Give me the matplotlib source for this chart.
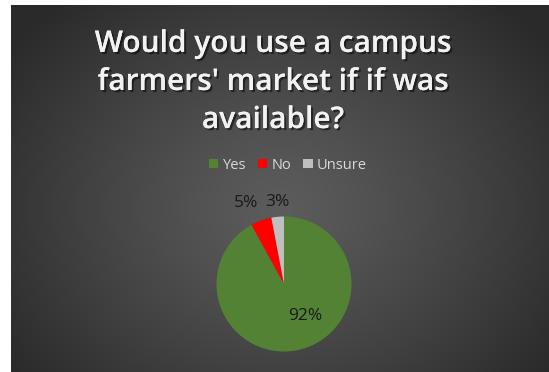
import numpy as np
import matplotlib
matplotlib.use("Agg")
import matplotlib.pyplot as plt
import matplotlib.patheffects as pe
from matplotlib.patches import Patch

labels = ["Yes", "No", "Unsure"]
shares = [92, 5, 3]
colours = ["#548235", "#ff0000", "#bfbfbf"]
title = "Would you use a campus\nfarmers' market if if was\navailable?"

W, H = 549, 372
fig = plt.figure(figsize=(W / 100, H / 100), dpi=100)
fig.patch.set_facecolor("white")

# dark radial background, white margin on left and top
x0, y0 = 11 / W, 0
bg = fig.add_axes([x0, y0, 1 - x0, 1 - 5 / H - y0])
bg.set_axis_off()
ny, nx = 200, 300
yy, xx = np.mgrid[0:ny, 0:nx]
cx, cy = nx * 0.5, ny * 0.55
d = np.sqrt(((xx - cx) / (nx * 0.62)) ** 2 + ((yy - cy) / (ny * 0.75)) ** 2)
d = np.clip(d, 0, 1)
light, dark = 0x5c / 255, 0x2a / 255
grey = light + (dark - light) * d ** 1.2
img = np.dstack([grey, grey, grey])
bg.imshow(img, aspect="auto", extent=[0, 1, 0, 1], origin="upper")
bg.set_xlim(0, 1)
bg.set_ylim(0, 1)

shadow = [pe.withSimplePatchShadow(offset=(1.5, -1.5), shadow_rgbFace="black", alpha=0.5),
          pe.Normal()]
fig.text(273 / W, 1 - 82 / H, title, ha="center", va="center", color="#f2f2f2",
         fontsize=21.5, fontweight=600, family="Open Sans", linespacing=1.35,
         path_effects=shadow)

# pie: centre (284, 284), radius 67.5 px
r = 67.5
ax = fig.add_axes([(284 - r) / W, (H - 284 - r) / H, 2 * r / W, 2 * r / H])
ax.set_axis_off()
wedges, _ = ax.pie(shares, colors=colours, startangle=90, counterclock=False,
                   wedgeprops=dict(linewidth=0))
ax.set_xlim(-1, 1)
ax.set_ylim(-1, 1)

label_pos = [(305, 316), (246, 203), (277, 202)]
for s, (px, py) in zip(shares, label_pos):
    fig.text(px / W, 1 - py / H, f"{s}%", ha="center", va="center",
             color="#1a1a1a", fontsize=12.5, family="Open Sans")

handles = [Patch(facecolor=c, edgecolor="none") for c in colours]
leg = fig.legend(handles, labels, loc="center", bbox_to_anchor=(288 / W, 1 - 165 / H),
                 ncol=3, frameon=False, handlelength=0.65, handleheight=0.65,
                 handletextpad=0.3, columnspacing=0.8, labelcolor="#d9d9d9",
                 prop=dict(family="Open Sans", size=10.5))

fig.savefig("out.png", dpi=100)
